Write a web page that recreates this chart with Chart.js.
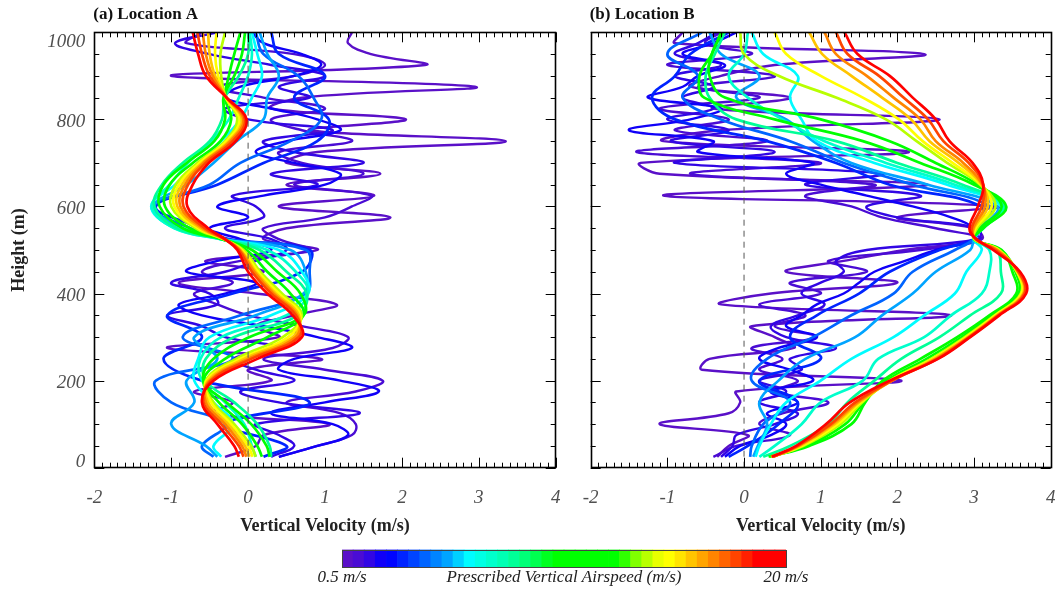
<!DOCTYPE html>
<html>
<head>
<meta charset="utf-8">
<script src="https://cdn.jsdelivr.net/npm/chart.js@4.4.1/dist/chart.umd.min.js"></script>
<style>
  html, body { margin: 0; padding: 0; background: #fff; }
  body { width: 1057px; height: 590px; position: relative; overflow: hidden; }
  canvas { position: absolute; }
</style>
</head>
<body>
<canvas id="chartA" width="570" height="540" style="left:0;top:0;width:570px;height:540px"></canvas>
<canvas id="chartB" width="487" height="540" style="left:570px;top:0;width:487px;height:540px"></canvas>
<canvas id="colorbar" width="530" height="50" style="left:300px;top:540px;width:530px;height:50px"></canvas>
<script>
// Prescribed vertical airspeeds (colour bar categories, m/s)
var airspeeds = [0.5, 1, 1.5, 2, 2.5, 3, 3.5, 4, 4.5, 5, 5.5, 6, 6.5, 7, 7.5, 8, 8.5, 9, 9.5, 10,
                 10.5, 11, 11.5, 12, 12.5, 13, 13.5, 14, 14.5, 15, 15.5, 16, 16.5, 17, 17.5, 18, 18.5, 19, 19.5, 20];
var speedColors = ['#5a10c8', '#4a0cd4', '#3206e4', '#1000f8', '#0004ff', '#0024ff', '#0044ff', '#0064ff',
                   '#0084ff', '#00a4ff', '#00d0ff', '#00fcff', '#00ffe4', '#00ffcc', '#00ffb4', '#00ff98',
                   '#00ff78', '#00ff50', '#00ff20', '#00ff00', '#00ff00', '#00ff00', '#00ff00', '#00ff00',
                   '#00ff00', '#30ff00', '#80ff00', '#b8ff00', '#e8ff00', '#ffff00', '#ffe400', '#ffc400',
                   '#ffa400', '#ff8400', '#ff6400', '#ff4400', '#ff2000', '#ff0000', '#ff0000', '#ff0000'];

// Heights (m): fine grid for the wiggly low-airspeed profiles, coarse grid for the rest
var heightsFine = [25, 50, 75, 100, 125, 150, 175, 200, 225, 250, 275, 300, 325, 350, 375, 400, 425, 450, 475, 500,
                   525, 550, 575, 600, 625, 650, 675, 700, 725, 750, 775, 800, 825, 850, 875, 900, 925, 950, 975, 1000];
var heightsCoarse = [25, 50, 100, 150, 200, 250, 300, 350, 400, 450, 500, 525, 550, 600, 650, 700, 750, 800, 850, 900, 950, 1000];

// Axis tick labels
var xTicks = [-2, -1, 0, 1, 2, 3, 4];
var yTicks = [0, 200, 400, 600, 800, 1000];

// --- Location A: vertical velocity (m/s) ---
var A05 = [-0.30, 0.10, 0.20, 1.05, -0.50, -0.20, -0.70, 0.30, 0.00, 0.95, -1.05, 0.40, 0.10, 0.60, 1.15, 0.10, -0.90, 0.20, -0.55, 0.90,
           0.20, 0.50, 1.85, 0.40, 1.64, 0.50, 1.72, 0.50, 0.90, 3.35, 0.80, 2.05, 0.30, 0.70, 2.95, -1.00, 2.30, 1.60, 1.30, 1.35];
var A1 = [0.40, 0.90, 1.35, 1.40, 1.20, 0.50, 1.40, 1.75, 1.00, 0.20, 1.10, 1.30, 0.70, 0.00, -0.40, -0.70, -0.20, -0.60, -0.10, 0.80,
          0.40, 0.20, 1.00, 1.35, 1.60, 0.60, 1.50, 0.70, 0.40, 1.35, 0.70, 0.30, 1.00, 0.20, -0.40, 0.60, 1.00, 0.60, -0.80, -0.60];
var A15 = [0.30, 0.60, 0.40, 0.10, 1.45, 0.40, -0.10, 0.60, 0.10, -0.20, 0.40, -0.30, -0.60, -1.05, -0.40, -0.50, -1.00, -0.30, 0.10, 0.50,
           0.30, -0.30, 0.20, 0.10, -0.20, 0.90, 0.30, 1.50, 0.60, 0.20, 1.10, 0.00, -0.30, 0.80, 0.40, 1.00, 0.30, -0.50, -0.95, -0.40];
var A2 = [0.40, 0.90, 1.30, 1.10, 0.30, 1.00, 1.70, 1.20, 0.40, 0.60, 1.35, 0.90, 0.20, -0.60, -0.90, -0.30, 0.10, -0.80, -0.40, 0.30,
          -0.10, -0.50, 0.00, -0.40, 0.20, 1.00, 1.20, 0.60, 0.10, 0.50, 1.20, 0.90, 0.30, -0.30, -0.10, 0.60, 0.95, 0.70, 0.20, 0.05];
var A3 = [0.20, 0.50, -0.30, 0.80, -0.60, -1.10, -0.60, -1.05, -0.20, 0.70, 0.80, -0.25, -0.60, -1.20, -0.40, 0.20, 0.90, 1.05, 0.60, 1.00, 0.40, 0.30];
var A4 = [-0.45, -0.60, -0.30, -1.00, -1.20, -0.20, -0.85, -0.10, 0.75, 0.80, 0.75, -0.30, -0.75, -1.25, -0.50, -0.10, 0.55, 0.95, 0.85, 0.65, 0.20, 0.10];
var A5 = [-0.40, -0.55, -1.00, -0.70, -0.80, -0.40, -0.70, 0.10, 0.72, 0.75, 0.55, -0.34, -0.85, -1.22, -0.80, -0.45, -0.15, 0.20, 0.25, 0.40, 0.25, 0.15];
var A6 = [-0.35, -0.45, -0.20, -0.45, -0.70, -0.65, -0.50, 0.30, 0.78, 0.70, 0.40, -0.36, -0.95, -1.26, -0.95, -0.65, -0.35, -0.10, 0.05, 0.18, 0.12, 0.05];
var A7 = [0.10, 0.05, -0.05, -0.30, -0.60, -0.62, -0.35, 0.50, 0.78, 0.62, 0.25, -0.36, -0.96, -1.25, -1.02, -0.78, -0.48, -0.25, -0.12, 0.00, 0.05, 0.02];
var A8 = [0.30, 0.28, 0.12, -0.18, -0.55, -0.55, -0.18, 0.65, 0.76, 0.50, 0.15, -0.35, -0.92, -1.22, -1.12, -0.85, -0.50, -0.34, -0.30, -0.12, 0.00, 0.00];
var A10 = [0.28, 0.24, 0.04, -0.28, -0.58, -0.45, 0.02, 0.72, 0.68, 0.38, 0.05, -0.34, -0.85, -1.15, -1.10, -0.80, -0.44, -0.30, -0.32, -0.18, -0.08, -0.04];
var A12 = [0.18, 0.12, -0.08, -0.38, -0.58, -0.30, 0.25, 0.72, 0.55, 0.25, -0.02, -0.33, -0.76, -1.08, -1.02, -0.72, -0.36, -0.22, -0.30, -0.25, -0.18, -0.10];
var A14 = [0.10, 0.04, -0.18, -0.45, -0.55, -0.16, 0.45, 0.70, 0.44, 0.16, -0.06, -0.32, -0.68, -1.00, -0.94, -0.66, -0.30, -0.14, -0.29, -0.35, -0.36, -0.30];
var A15b = [0.06, 0.00, -0.22, -0.48, -0.54, -0.10, 0.52, 0.68, 0.40, 0.13, -0.08, -0.32, -0.65, -0.96, -0.90, -0.63, -0.28, -0.11, -0.29, -0.39, -0.43, -0.41];
var A16 = [0.02, -0.04, -0.26, -0.52, -0.52, -0.05, 0.58, 0.66, 0.36, 0.10, -0.10, -0.31, -0.62, -0.92, -0.86, -0.60, -0.25, -0.08, -0.28, -0.43, -0.50, -0.52];
var A17 = [-0.02, -0.08, -0.30, -0.55, -0.50, 0.00, 0.62, 0.64, 0.33, 0.08, -0.11, -0.31, -0.59, -0.88, -0.82, -0.58, -0.23, -0.06, -0.28, -0.46, -0.55, -0.59];
var A18 = [-0.06, -0.12, -0.35, -0.58, -0.48, 0.04, 0.66, 0.62, 0.30, 0.05, -0.12, -0.30, -0.56, -0.84, -0.78, -0.55, -0.20, -0.04, -0.28, -0.50, -0.60, -0.66];
var A20 = [-0.12, -0.18, -0.40, -0.60, -0.45, 0.12, 0.70, 0.58, 0.25, 0.00, -0.14, -0.30, -0.52, -0.79, -0.72, -0.51, -0.16, -0.02, -0.28, -0.55, -0.65, -0.72];

// --- Location B: vertical velocity (m/s) ---
var B05 = [-0.35, -0.20, 0.05, -1.10, -0.20, -0.05, -0.10, 2.05, -0.55, -0.45, 0.65, 0.40, 0.10, 2.70, -0.30, 0.35, 2.00, 0.55, 1.30, 2.10,
           3.10, 3.00, 2.00, 3.30, -1.05, 2.40, -1.10, -1.35, 2.15, -1.05, -0.30, 2.55, -0.40, 0.60, -0.70, -0.30, 0.40, 2.35, -0.90, -0.80];
var B1 = [-0.40, -0.10, 0.60, 0.20, 0.50, 1.10, 0.40, 0.70, 0.20, 0.50, 0.10, 0.95, 0.40, 0.80, 0.20, 1.00, 0.60, 1.60, 1.10, 2.30,
          3.10, 2.50, 1.80, 1.40, 0.80, 1.70, -0.70, 1.00, -1.40, 0.30, -0.90, -0.20, -1.10, 0.20, -0.60, 0.40, -1.00, 0.10, -0.50, -0.30];
var B15 = [-0.30, -0.15, -0.10, 0.40, 0.70, 0.20, 0.55, 0.20, 0.75, 0.60, 1.20, 0.55, 0.35, 0.70, 1.05, 0.75, 1.00, 1.30, 1.20, 1.60,
           3.05, 3.05, 2.00, 1.60, 2.30, 0.80, 1.80, -0.90, 0.40, -0.95, -0.20, -1.00, -0.40, -0.80, -0.40, -0.90, -0.30, -0.90, -0.60, -0.35];
var B2 = [-0.25, -0.05, 0.35, 0.55, 0.30, 0.70, 0.35, 0.90, 0.60, 0.20, 0.45, 0.95, 0.55, 0.75, 0.95, 1.30, 1.50, 1.70, 2.10, 2.50,
          3.00, 3.00, 2.70, 2.20, 1.60, 1.00, 0.55, 0.90, -0.60, -0.40, -1.50, -0.70, -0.30, -1.25, -0.80, -0.60, -0.25, -0.80, -0.40, -0.10];
var B3 = [-0.20, 0.05, 0.45, 0.70, 0.20, 1.00, 0.60, 0.95, 1.50, 1.90, 2.55, 3.00, 3.05, 3.10, 1.90, 1.20, 0.30, -0.90, -1.20, -0.90, -0.70, -0.20];
var B4 = [0.08, 0.10, 0.25, 0.60, 0.10, 0.30, 0.90, 1.40, 1.95, 2.20, 2.75, 3.00, 3.08, 3.20, 2.20, 1.30, 0.60, -0.30, -0.80, -0.60, -1.00, -0.55];
var B5 = [0.12, 0.18, 0.30, 0.20, 0.45, 0.80, 1.45, 1.80, 2.20, 2.50, 2.95, 3.00, 3.10, 3.30, 2.40, 1.40, 0.90, 0.55, -0.10, 0.20, -0.30, -0.45];
var B6 = [0.15, 0.20, 0.35, 0.55, 1.00, 1.40, 1.95, 2.35, 2.75, 2.90, 3.10, 3.00, 3.12, 3.35, 2.65, 1.70, 0.95, 0.75, 0.60, 0.70, 0.25, 0.10];
var B7 = [0.20, 0.40, 0.75, 1.00, 1.55, 1.75, 2.35, 2.70, 3.10, 3.20, 3.20, 3.00, 3.12, 3.38, 2.75, 1.85, 1.05, 0.50, 0.05, -0.20, 0.00, 0.05];
var B8 = [0.25, 0.60, 1.10, 1.35, 1.70, 2.05, 2.55, 2.95, 3.35, 3.35, 3.30, 3.00, 3.12, 3.40, 2.85, 2.00, 1.20, -0.10, -0.45, -0.50, -0.38, -0.25];
var B10 = [0.32, 0.85, 1.40, 1.58, 1.81, 2.30, 2.78, 3.20, 3.55, 3.50, 3.36, 3.00, 3.12, 3.42, 3.00, 2.30, 1.55, 0.40, -0.52, -0.58, -0.42, -0.30];
var B12 = [0.34, 0.80, 1.32, 1.56, 1.86, 2.38, 2.84, 3.24, 3.58, 3.54, 3.35, 3.00, 3.08, 3.36, 3.05, 2.50, 1.90, 1.00, -0.25, -0.45, -0.42, -0.28];
var B14 = [0.35, 0.77, 1.26, 1.54, 1.90, 2.44, 2.88, 3.27, 3.61, 3.56, 3.33, 3.00, 3.04, 3.28, 3.08, 2.65, 2.25, 1.85, 1.20, 0.45, 0.00, -0.05];
var B15b = [0.36, 0.75, 1.22, 1.52, 1.91, 2.46, 2.90, 3.28, 3.62, 3.56, 3.32, 3.01, 3.02, 3.23, 3.09, 2.72, 2.33, 2.02, 1.55, 1.00, 0.55, 0.40];
var B16 = [0.37, 0.73, 1.18, 1.50, 1.93, 2.48, 2.92, 3.30, 3.64, 3.57, 3.31, 3.01, 3.00, 3.18, 3.10, 2.80, 2.42, 2.18, 1.80, 1.40, 1.02, 0.85];
var B17 = [0.38, 0.71, 1.15, 1.48, 1.93, 2.50, 2.93, 3.31, 3.65, 3.58, 3.30, 3.02, 2.99, 3.14, 3.11, 2.86, 2.50, 2.30, 1.95, 1.60, 1.20, 1.05];
var B18 = [0.38, 0.70, 1.13, 1.45, 1.93, 2.52, 2.94, 3.32, 3.66, 3.58, 3.28, 3.02, 2.97, 3.10, 3.12, 2.93, 2.60, 2.40, 2.08, 1.76, 1.35, 1.20];
var B20 = [0.36, 0.68, 1.07, 1.38, 1.90, 2.53, 2.95, 3.33, 3.68, 3.60, 3.25, 3.03, 2.94, 3.05, 3.12, 2.98, 2.68, 2.50, 2.20, 1.90, 1.48, 1.31];

// zero reference line
var zeroLineV = [0, 0];
var zeroLineH = [0, 1000];

// [airspeed, velocities, heights]
var profilesA = [
    [0.5, A05, heightsFine], [1, A1, heightsFine], [1.5, A15, heightsFine], [2, A2, heightsFine],
    [3, A3, heightsCoarse], [4, A4, heightsCoarse], [5, A5, heightsCoarse], [6, A6, heightsCoarse],
    [7, A7, heightsCoarse], [8, A8, heightsCoarse], [10, A10, heightsCoarse], [12, A12, heightsCoarse],
    [14, A14, heightsCoarse], [15, A15b, heightsCoarse], [16, A16, heightsCoarse], [17, A17, heightsCoarse],
    [18, A18, heightsCoarse], [20, A20, heightsCoarse]
];
var profilesB = [
    [0.5, B05, heightsFine], [1, B1, heightsFine], [1.5, B15, heightsFine], [2, B2, heightsFine],
    [3, B3, heightsCoarse], [4, B4, heightsCoarse], [5, B5, heightsCoarse], [6, B6, heightsCoarse],
    [7, B7, heightsCoarse], [8, B8, heightsCoarse], [10, B10, heightsCoarse], [12, B12, heightsCoarse],
    [14, B14, heightsCoarse], [15, B15b, heightsCoarse], [16, B16, heightsCoarse], [17, B17, heightsCoarse],
    [18, B18, heightsCoarse], [20, B20, heightsCoarse]
];

var SERIF = "'Liberation Serif', 'Times New Roman', serif";

function buildDatasets(profiles) {
    var sets = profiles.map(function (p) {
        var speed = p[0], vel = p[1], hts = p[2];
        return {
            label: speed + ' m/s',
            data: hts.map(function (h, i) { return { x: vel[i], y: h }; }),
            showLine: true,
            borderColor: speedColors[airspeeds.indexOf(speed)],
            borderWidth: speed < 2.5 ? 2.4 : 2.7,
            pointRadius: 0,
            tension: 0.4,
            order: 100 - speed * 2
        };
    });
    sets.push({
        label: 'zero',
        data: zeroLineV.map(function (v, i) { return { x: v, y: zeroLineH[i] }; }),
        showLine: true,
        borderColor: '#555',
        borderWidth: 1,
        borderDash: [6, 5],
        pointRadius: 0,
        order: -1
    });
    return sets;
}

// frame, inward ticks, y labels and panel title
var panelFrame = {
    id: 'panelFrame',
    afterDraw: function (chart, args, opts) {
        var ctx = chart.ctx, a = chart.chartArea;
        var x = chart.scales.x, y = chart.scales.y;
        ctx.save();
        ctx.strokeStyle = '#000';
        ctx.lineWidth = 1;
        ctx.beginPath();
        for (var k = 0; k <= 60; k++) {
            var px = Math.round(x.getPixelForValue(-2 + k * 0.1)) + 0.5;
            var len = (k % 10 === 0) ? 10 : 5;
            ctx.moveTo(px, a.bottom); ctx.lineTo(px, a.bottom - len);
            ctx.moveTo(px, a.top); ctx.lineTo(px, a.top + len);
        }
        for (var j = 0; j <= 20; j++) {
            var py = Math.round(y.getPixelForValue(j * 50)) + 0.5;
            var ylen = (j % 4 === 0) ? 10 : 5;
            ctx.moveTo(a.left, py); ctx.lineTo(a.left + ylen, py);
            ctx.moveTo(a.right, py); ctx.lineTo(a.right - ylen, py);
        }
        ctx.stroke();
        ctx.lineWidth = 1.6;
        ctx.strokeRect(Math.round(a.left) + 0.5, Math.round(a.top) + 0.5, Math.round(a.width), Math.round(a.height));

        if (opts.yLabels) {
            ctx.font = 'italic 19px ' + SERIF;
            ctx.fillStyle = '#505050';
            ctx.textAlign = 'right';
            ctx.textBaseline = 'middle';
            yTicks.forEach(function (v) {
                var ly = y.getPixelForValue(v) + 2.5;
                ly = Math.max(a.top + 10, Math.min(a.bottom - 6, ly));
                ctx.fillText(String(v), a.left - 9, ly);
            });
        }
        ctx.font = 'bold 17px ' + SERIF;
        ctx.fillStyle = '#111';
        ctx.textAlign = 'left';
        ctx.textBaseline = 'middle';
        ctx.fillText(opts.title, a.left - 1, 15);
        ctx.restore();
    }
};

function panelConfig(profiles, title, showY) {
    return {
        type: 'scatter',
        data: { datasets: buildDatasets(profiles) },
        plugins: [panelFrame],
        options: {
            responsive: false,
            animation: false,
            devicePixelRatio: 1,
            layout: {
                padding: showY ? { left: 0, top: 32.3, right: 14.3, bottom: 0 }
                               : { left: 20.7, top: 32.3, right: 6.3, bottom: 0 }
            },
            plugins: {
                legend: { display: false },
                tooltip: { enabled: false },
                panelFrame: { title: title, yLabels: showY }
            },
            scales: {
                x: {
                    type: 'linear', min: -2, max: 4,
                    grid: { display: false, drawTicks: false },
                    border: { display: false },
                    afterBuildTicks: function (s) { s.ticks = xTicks.map(function (v) { return { value: v }; }); },
                    ticks: {
                        padding: 19, color: '#505050',
                        font: { family: SERIF, size: 19, style: 'italic' }
                    },
                    title: {
                        display: true, text: 'Vertical Velocity (m/s)', color: '#222',
                        font: { family: SERIF, size: 18, weight: 'bold' },
                        padding: { top: 0, bottom: 3 }
                    },
                    afterFit: function (s) {
                        s.height = 72.3;
                        s.paddingLeft = 0;
                        s.paddingRight = 0;
                    }
                },
                y: {
                    type: 'linear', min: 0, max: 1000,
                    grid: { display: false, drawTicks: false },
                    border: { display: false },
                    ticks: { display: false },
                    title: {
                        display: showY, text: 'Height (m)', color: '#222',
                        font: { family: SERIF, size: 18, weight: 'bold' },
                        padding: { top: 9, bottom: 0 }
                    },
                    afterFit: function (s) {
                        s.width = showY ? 94.3 : 0;
                        s.paddingTop = 0;
                        s.paddingBottom = 0;
                    }
                }
            }
        }
    };
}

new Chart(document.getElementById('chartA'), panelConfig(profilesA, '(a) Location A', true));
new Chart(document.getElementById('chartB'), panelConfig(profilesB, '(b) Location B', false));

// colour bar
var colorbarLabels = {
    id: 'colorbarLabels',
    afterDraw: function (chart) {
        var ctx = chart.ctx, a = chart.chartArea;
        ctx.save();
        ctx.strokeStyle = '#444';
        ctx.lineWidth = 1;
        ctx.strokeRect(Math.round(a.left) + 0.5, Math.round(a.top) + 0.5, Math.round(a.width), Math.round(a.height));
        ctx.font = 'italic 17px ' + SERIF;
        ctx.fillStyle = '#222';
        ctx.textBaseline = 'middle';
        ctx.textAlign = 'center';
        ctx.fillText(airspeeds[0] + ' m/s', a.left, 38);
        ctx.fillText('Prescribed Vertical Airspeed (m/s)', (a.left + a.right) / 2, 38);
        ctx.fillText(airspeeds[airspeeds.length - 1] + ' m/s', a.right, 38);
        ctx.restore();
    }
};

new Chart(document.getElementById('colorbar'), {
    type: 'bar',
    data: {
        labels: airspeeds,
        datasets: [{
            data: airspeeds.map(function () { return 1; }),
            backgroundColor: speedColors,
            borderWidth: 0,
            barPercentage: 1,
            categoryPercentage: 1
        }]
    },
    plugins: [colorbarLabels],
    options: {
        responsive: false,
        animation: false,
        devicePixelRatio: 1,
        layout: { padding: { left: 42, right: 44, top: 9.6, bottom: 0 } },
        plugins: { legend: { display: false }, tooltip: { enabled: false } },
        scales: {
            x: {
                grid: { display: false, drawTicks: false },
                border: { display: false },
                ticks: { display: false },
                afterFit: function (s) { s.height = 23; s.paddingLeft = 0; s.paddingRight = 0; }
            },
            y: { display: false, min: 0, max: 1 }
        }
    }
});
</script>
</body>
</html>
